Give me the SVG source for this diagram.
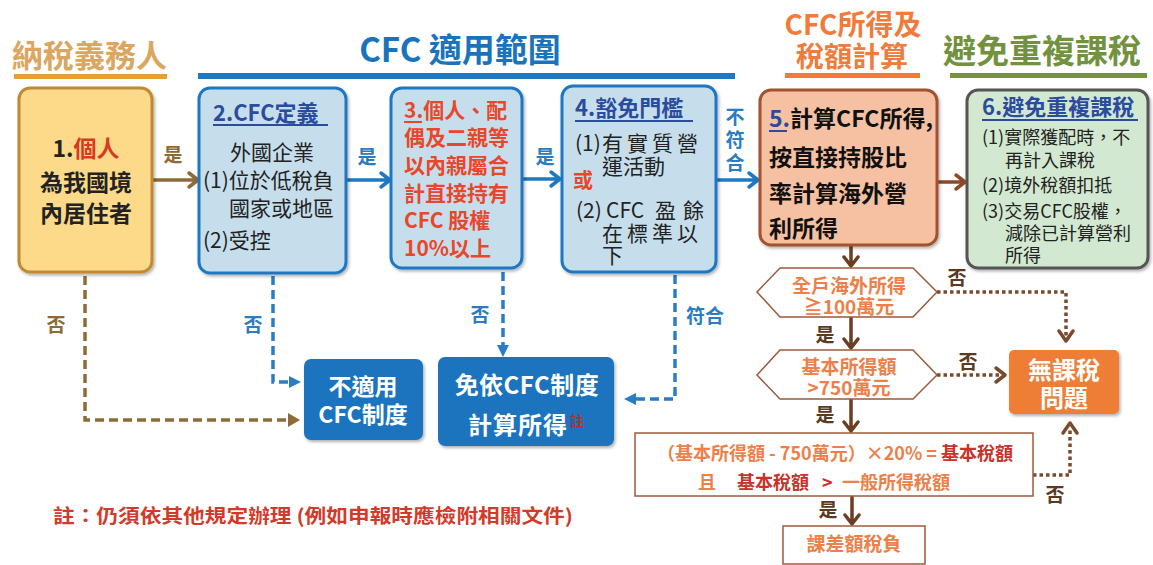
<svg xmlns="http://www.w3.org/2000/svg" width="1153" height="565" viewBox="0 0 1153 565">
<defs>
<style>
text{font-family:"Noto Sans CJK TC","Noto Sans CJK SC",sans-serif;}
.b{font-weight:bold;}
.hd{font-weight:bold;}
.blk{fill:#222;}
.red3{fill:#E8472B;font-weight:bold;font-size:21px;}
.ttl{fill:#2B4C9E;font-weight:bold;font-size:22px;}
.lblB{fill:#2A7CC4;font-weight:bold;font-size:19px;}
.lblN{fill:#8D6A36;font-weight:bold;font-size:19px;}
.lblD{fill:#5B3A22;font-weight:bold;font-size:19px;}
.or{fill:#EC8048;font-weight:bold;}
.rd{fill:#C8322A;font-weight:bold;}
.wt{fill:#fff;font-weight:bold;}
.sol{fill:none;stroke-width:3.5;stroke-linecap:round;stroke-linejoin:round;}
.dash{fill:none;stroke-width:3.5;stroke-dasharray:9 5;}
.dot{fill:none;stroke:#7A4A2C;stroke-width:3.5;stroke-dasharray:3.5 3;}
.chev{fill:none;stroke-width:3.5;stroke-linecap:round;stroke-linejoin:round;}
</style>
<filter id="sh" x="-10%" y="-10%" width="125%" height="125%">
<feDropShadow dx="1.5" dy="2" stdDeviation="1.5" flood-color="#000" flood-opacity="0.3"/>
</filter>
</defs>
<rect width="1153" height="565" fill="#fff"/>

<g id="headings">
<text x="12" y="67" class="hd" font-size="31" fill="#DBA65F">納稅義務人</text>
<rect x="14" y="74" width="153" height="5" fill="#E5A030"/>
<text x="460" y="62" class="hd" font-size="33" fill="#1A73BD" text-anchor="middle">CFC 適用範圍</text>
<rect x="198" y="73" width="537" height="6" fill="#1E78C2"/>
<text x="853" y="35" class="hd" font-size="28" fill="#F07B3A" text-anchor="middle">CFC所得及</text>
<text x="852" y="67" class="hd" font-size="28" fill="#F07B3A" text-anchor="middle">稅額計算</text>
<rect x="785" y="73" width="135" height="5" fill="#F07B3A"/>
<text x="1042" y="63" class="hd" font-size="33" fill="#72923F" text-anchor="middle">避免重複課稅</text>
<rect x="950" y="73" width="197" height="5" fill="#77933C"/>
</g>

<g id="connectors">
<path class="sol" stroke="#8D6A36" d="M152,180 H197 M189,173 L198,180 L189,187"/>
<path class="sol" stroke="#1E78C2" d="M346,180 H389 M381,173 L390,180 L381,187"/>
<path class="sol" stroke="#1E78C2" d="M522,179 H559 M551,172 L560,179 L551,186"/>
<path class="sol" stroke="#1E78C2" d="M716,180 H757 M749,173 L758,180 L749,187"/>
<path class="sol" stroke="#8C4A2A" d="M937,182 H964 M956,175 L965,182 L956,189"/>
<path class="sol" stroke="#6B3E22" d="M851,246 V265 M844,257 L851,266 L858,257"/>
<path class="sol" stroke="#6B3E22" d="M851,318 V347 M844,339 L851,348 L858,339"/>
<path class="sol" stroke="#6B3E22" d="M851,400 V430 M844,422 L851,431 L858,422"/>
<path class="sol" stroke="#6B3E22" d="M852,497 V523 M845,515 L852,524 L859,515"/>
<path class="dash" stroke="#8D6A36" d="M85,276 V420 H290"/>
<polygon points="288,413 300,420 288,427" fill="#8D6A36"/>
<path class="dash" stroke="#2A7CC4" d="M273,276 V382 H289"/>
<polygon points="289,376 301,382 289,388" fill="#2A7CC4"/>
<path class="dash" stroke="#2A7CC4" d="M503,272 V345"/>
<polygon points="497,345 503,357 509,345" fill="#2A7CC4"/>
<path class="dash" stroke="#2A7CC4" d="M675,275 V399 H636"/>
<polygon points="636,393 624,399 636,405" fill="#2A7CC4"/>
<path class="dot" d="M937,292 H1066 V338"/>
<path class="chev" stroke="#7A4A2C" d="M1059,331 L1066,341 L1073,331"/>
<path class="dot" d="M937,375 H1002"/>
<path class="chev" stroke="#7A4A2C" d="M996,368 L1005,375 L996,382"/>
<path class="dot" d="M1033,475 H1070 V428"/>
<path class="chev" stroke="#7A4A2C" d="M1063,433 L1070,423 L1077,433"/>
<text x="173" y="162" class="lblN" text-anchor="middle">是</text>
<text x="367" y="164" class="lblB" text-anchor="middle">是</text>
<text x="545" y="164" class="lblB" text-anchor="middle">是</text>
<text x="735" y="124" class="lblB" text-anchor="middle">不</text>
<text x="735" y="147" class="lblB" text-anchor="middle">符</text>
<text x="735" y="170" class="lblB" text-anchor="middle">合</text>
<text x="56" y="332" class="lblN" text-anchor="middle">否</text>
<text x="253" y="332" class="lblB" text-anchor="middle">否</text>
<text x="480" y="322" class="lblB" text-anchor="middle">否</text>
<text x="705" y="323" class="lblB" text-anchor="middle">符合</text>
<text x="957" y="285" class="lblD" text-anchor="middle">否</text>
<text x="968" y="369" class="lblD" text-anchor="middle">否</text>
<text x="1055" y="502" class="lblD" text-anchor="middle">否</text>
<text x="825" y="342" class="lblD" text-anchor="middle">是</text>
<text x="825" y="422" class="lblD" text-anchor="middle">是</text>
<text x="828" y="517" class="lblD" text-anchor="middle">是</text>
</g>

<g id="node1">
<rect x="19" y="88" width="133" height="184" rx="11" fill="#FDD98A" stroke="#C08A32" stroke-width="3" filter="url(#sh)"/>
<text x="86" y="157" class="b" font-size="23" text-anchor="middle" fill="#222">1.<tspan fill="#D63B22">個人</tspan></text>
<text x="86" y="191" class="b" font-size="23" text-anchor="middle" fill="#222">為我國境</text>
<text x="86" y="222" class="b" font-size="23" text-anchor="middle" fill="#222">內居住者</text>
</g>

<g id="node2">
<rect x="199" y="88" width="147" height="185" rx="11" fill="#C6DEEC" stroke="#1E78C2" stroke-width="3" filter="url(#sh)"/>
<text x="213" y="121" class="ttl">2.CFC定義</text>
<rect x="213" y="124" width="115" height="2" fill="#2B4C9E"/>
<text x="272" y="160" class="blk" font-size="21" text-anchor="middle">外國企業</text>
<text x="203" y="188" class="blk" font-size="21">(1)位於低稅負</text>
<text x="229" y="216" class="blk" font-size="21">國家或地區</text>
<text x="203" y="248" class="blk" font-size="21">(2)受控</text>
</g>

<g id="node3">
<rect x="391" y="88" width="131" height="180" rx="11" fill="#C6DEEC" stroke="#1E78C2" stroke-width="3" filter="url(#sh)"/>
<text x="404" y="118" class="red3">3.個人、配</text>
<rect x="404" y="121" width="18" height="2" fill="#E8472B"/>
<text x="404" y="145" class="red3">偶及二親等</text>
<text x="404" y="173" class="red3">以內親屬合</text>
<text x="404" y="201" class="red3">計直接持有</text>
<text x="404" y="228" class="red3">CFC 股權</text>
<text x="404" y="256" class="red3">10%以上</text>
</g>

<g id="node4">
<rect x="562" y="86" width="154" height="186" rx="11" fill="#C6DEEC" stroke="#1E78C2" stroke-width="3" filter="url(#sh)"/>
<text x="575" y="116" class="ttl">4.豁免門檻</text>
<rect x="575" y="120" width="118" height="2" fill="#2B4C9E"/>
<text x="575" y="151" class="blk" font-size="21">(1)<tspan x="602" letter-spacing="4">有實質營</tspan></text>
<text x="602" y="174" class="blk" font-size="21">運活動</text>
<text x="573" y="188" font-size="20" fill="#E8472B" class="b">或</text>
<text x="576" y="218" class="blk" font-size="21">(2)<tspan x="606">CFC</tspan><tspan x="655">盈</tspan><tspan x="683">餘</tspan></text>
<text x="602" y="241" class="blk" font-size="21" letter-spacing="4">在標準以</text>
<text x="602" y="263" class="blk" font-size="21">下</text>
</g>

<g id="node5">
<rect x="760" y="90" width="177" height="155" rx="11" fill="#F6C0A3" stroke="#A0522D" stroke-width="3" filter="url(#sh)"/>
<text x="769" y="127" class="b" font-size="23" fill="#111"><tspan fill="#2B4C9E">5.</tspan>計算CFC所得,</text>
<rect x="769" y="130" width="18" height="2" fill="#2B4C9E"/>
<text x="769" y="166" class="b" font-size="23" fill="#111">按直接持股比</text>
<text x="769" y="202" class="b" font-size="23" fill="#111">率計算海外營</text>
<text x="769" y="237" class="b" font-size="23" fill="#111">利所得</text>
</g>

<g id="node6">
<rect x="967" y="90" width="181" height="178" rx="11" fill="#D3E8D0" stroke="#555" stroke-width="3" filter="url(#sh)"/>
<text x="982" y="115" class="ttl">6.避免重複課稅</text>
<rect x="982" y="119" width="156" height="2" fill="#2B4C9E"/>
<text x="982" y="144" class="blk" font-size="18">(1)實際獲配時，不</text>
<text x="1005" y="167" class="blk" font-size="18">再計入課稅</text>
<text x="982" y="192" class="blk" font-size="18">(2)境外稅額扣抵</text>
<text x="982" y="218" class="blk" font-size="18">(3)交易CFC股權，</text>
<text x="1005" y="240" class="blk" font-size="18">減除已計算營利</text>
<text x="1005" y="262" class="blk" font-size="18">所得</text>
</g>

<g id="node-notapply">
<rect x="304" y="359" width="119" height="81" rx="7" fill="#1F73BE" filter="url(#sh)"/>
<text x="363" y="395" class="wt" font-size="23" text-anchor="middle">不適用</text>
<text x="363" y="423" class="wt" font-size="23" text-anchor="middle">CFC制度</text>
</g>

<g id="node-exempt">
<rect x="438" y="357" width="176" height="89" rx="7" fill="#1F73BE" filter="url(#sh)"/>
<text x="527" y="394" class="wt" font-size="24" text-anchor="middle" letter-spacing="0.5">免依CFC制度</text>
<text x="468" y="434" class="wt" font-size="24" letter-spacing="1">計算所得</text>
<text x="570" y="426" font-size="14" font-weight="bold" fill="#C0282D">註</text>
</g>

<g id="hex1">
<polygon points="757,292 780,268 913,268 937,292 913,317 780,317" fill="#fff" stroke="#9C5A3A" stroke-width="1.5"/>
<text x="849" y="293" class="or" font-size="19" text-anchor="middle">全戶海外所得</text>
<text x="849" y="314" class="or" font-size="19" text-anchor="middle">≧100萬元</text>
</g>

<g id="hex2">
<polygon points="757,375 780,350 913,350 937,375 913,399 780,399" fill="#fff" stroke="#9C5A3A" stroke-width="1.5"/>
<text x="849" y="374" class="or" font-size="19" text-anchor="middle">基本所得額</text>
<text x="849" y="395" class="or" font-size="19" text-anchor="middle">&gt;750萬元</text>
</g>

<g id="calc">
<rect x="635" y="433" width="398" height="63" fill="#fff" stroke="#A05A3A" stroke-width="1.5"/>
<text x="657" y="460" font-size="18" textLength="356" lengthAdjust="spacing"><tspan class="or">（基本所得額 - 750萬元）×20% = </tspan><tspan class="rd">基本稅額</tspan></text>
<text x="698" y="489" font-size="18" class="or">且</text>
<text x="737" y="489" font-size="18" class="rd">基本稅額</text>
<text x="822" y="489" font-size="18" class="rd">&gt;</text>
<text x="842" y="489" font-size="18" class="or">一般所得稅額</text>
</g>

<g id="node-diff">
<rect x="783" y="526" width="142" height="38" fill="#fff" stroke="#A05A3A" stroke-width="1.5"/>
<text x="854" y="551" class="or" font-size="19" text-anchor="middle">課差額稅負</text>
</g>

<g id="node-notax">
<rect x="1009" y="350" width="110" height="64" rx="5" fill="#EE7D35" filter="url(#sh)"/>
<text x="1064" y="379" class="wt" font-size="24" text-anchor="middle">無課稅</text>
<text x="1064" y="407" class="wt" font-size="24" text-anchor="middle">問題</text>
</g>

<g id="note">
<text x="53" y="523" font-size="19" font-weight="bold" fill="#D43A2A" textLength="520" lengthAdjust="spacingAndGlyphs">註：仍須依其他規定辦理 (例如申報時應檢附相關文件)</text>
</g>
</svg>
